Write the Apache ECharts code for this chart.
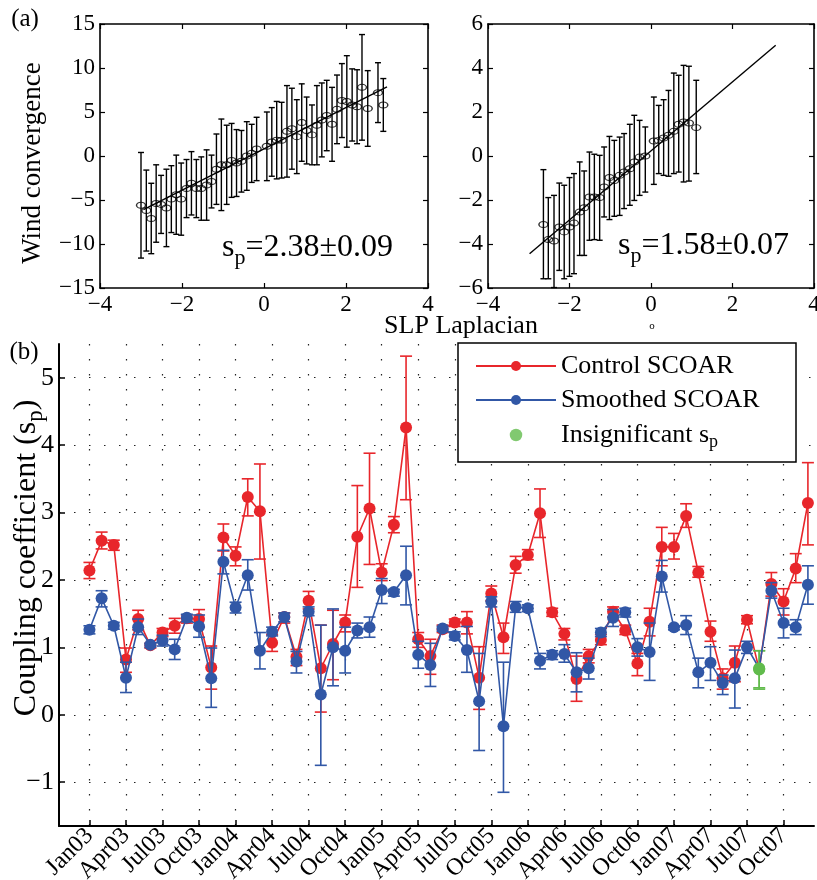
<!DOCTYPE html>
<html><head><meta charset="utf-8">
<script src="https://cdn.jsdelivr.net/npm/echarts@6/dist/echarts.min.js"></script>
<style>html,body{margin:0;padding:0;background:#fff}#c{width:817px;height:880px}</style>
</head><body><div id="c"></div>
<script>
// ---------------- data ----------------
const tickLabels = ['Jan03','Apr03','Jul03','Oct03','Jan04','Apr04','Jul04','Oct04','Jan05','Apr05','Jul05','Oct05','Jan06','Apr06','Jul06','Oct06','Jan07','Apr07','Jul07','Oct07'];
const tickMonths = [0,3,6,9,12,15,18,21,24,27,30,33,36,39,42,45,48,51,54,57];
const monthIndex = [0,1,2,3,4,5,6,7,8,9,10,11,12,13,14,15,16,17,18,19,20,21,22,23,24,25,26,27,28,29,30,31,32,33,34,35,36,37,38,39,40,41,42,43,44,45,46,47,48,49,50,51,52,53,54,55,56,57,58,59];
const controlSp   = [2.14,2.58,2.52,0.82,1.42,1.03,1.22,1.32,1.43,1.42, 0.70,2.63,2.36,3.23,3.02,1.07,1.45,0.86,1.69,0.69, 1.05,1.37,2.64,3.06,2.11,2.82,4.26,1.12,0.87,1.27, 1.37,1.37,0.55,1.80,1.15,2.22,2.37,2.99,1.52,1.20, 0.53,0.87,1.11,1.53,1.25,0.76,1.38,2.49,2.49,2.95, 2.11,1.23,0.54,0.77,1.41,0.67,1.94,1.68,2.17,3.14];
const controlLow  = [2.02,2.46,2.44,0.63,1.26,0.99,1.16,1.21,1.36,1.30, 0.38,2.43,2.21,2.95,2.31,0.94,1.36,0.73,1.57,0.04, 0.52,1.23,1.89,2.23,1.99,2.70,3.19,1.00,0.60,1.22, 1.31,1.20,0.08,1.69,0.91,2.10,2.30,2.63,1.46,1.11, 0.20,0.77,1.04,1.45,1.19,0.58,1.17,2.21,2.31,2.78, 2.04,1.09,0.38,0.49,1.35,0.38,1.76,1.48,1.96,2.52];
const controlHigh = [2.26,2.71,2.59,0.99,1.55,1.06,1.28,1.43,1.48,1.56, 1.02,2.83,2.49,3.50,3.72,1.19,1.51,0.97,1.83,1.33, 1.55,1.48,3.40,3.88,2.24,2.94,5.32,1.22,1.12,1.33, 1.42,1.53,1.01,1.91,1.36,2.35,2.45,3.35,1.58,1.28, 0.87,0.97,1.19,1.60,1.33,0.91,1.58,2.78,2.69,3.13, 2.20,1.39,0.68,1.02,1.47,0.95,2.11,1.87,2.39,3.74];
const smoothSp    = [1.26,1.73,1.32,0.55,1.30,1.04,1.10,0.97,1.44,1.31, 0.54,2.27,1.59,2.07,0.95,1.23,1.45,0.79,1.53,0.30, 1.00,0.95,1.25,1.30,1.85,1.82,2.07,0.89,0.74,1.28, 1.17,0.96,0.20,1.68,-0.17,1.60,1.58,0.80,0.89,0.90, 0.63,0.69,1.22,1.44,1.52,1.00,0.93,2.05,1.30,1.33, 0.63,0.77,0.47,0.54,1.00,0.69,1.84,1.36,1.30,1.93];
const smoothLow   = [1.20,1.60,1.27,0.33,1.19,1.00,1.02,0.82,1.38,1.15, 0.11,2.09,1.51,1.85,0.68,1.17,1.38,0.62,1.47,-0.75, 0.43,0.62,1.14,1.15,1.65,1.76,1.63,0.69,0.42,1.24, 1.11,0.63,-0.53,1.60,-1.15,1.52,1.53,0.68,0.82,0.78, 0.34,0.53,1.16,1.31,1.45,0.87,0.51,1.82,1.26,1.19, 0.40,0.51,0.30,0.10,0.91,0.40,1.73,1.14,1.19,1.64];
const smoothHigh  = [1.32,1.84,1.37,0.78,1.42,1.06,1.18,1.12,1.49,1.48, 0.99,2.44,1.67,2.30,1.22,1.30,1.51,0.94,1.60,1.33, 1.57,1.30,1.36,1.45,2.02,1.86,2.50,1.09,1.06,1.31, 1.23,1.31,0.91,1.75,0.78,1.68,1.63,0.91,0.95,1.04, 0.92,0.84,1.28,1.56,1.58,1.13,1.36,2.29,1.32,1.47, 0.84,1.01,0.59,0.96,1.09,0.95,1.96,1.58,1.41,2.21];
const insignificantMonths = [55];
const insignificantValues = [0.68];
const yTicksB = [-1,0,1,2,3,4,5];

// panel (a) left
const aLeftX   = [-3.00,-2.87,-2.75,-2.63,-2.51,-2.38,-2.26,-2.14,-2.02,-1.89,-1.77,-1.65,-1.53,-1.40,-1.28,-1.16,-1.04,-0.91,-0.79,-0.67,-0.55,-0.42,-0.30,-0.18,0.07,0.19,0.31,0.43,0.56,0.68,0.80,0.92,1.04,1.17,1.29,1.41,1.53,1.66,1.78,1.90,2.02,2.15,2.27,2.39,2.53,2.78,2.91];
const aLeftY   = [-5.6,-6.2,-7.1,-5.4,-5.5,-5.9,-4.9,-4.4,-4.9,-3.7,-3.1,-3.7,-3.7,-3.3,-2.9,-1.5,-1.0,-1.0,-0.5,-0.8,-0.6,0.0,0.3,0.8,1.1,1.6,1.8,1.8,2.8,3.1,2.2,3.8,2.9,2.4,3.5,4.1,4.6,3.6,5.3,6.3,6.2,5.8,5.6,7.8,5.4,7.2,5.8];
const aLeftErr = [6.0,4.6,4.0,4.4,3.3,4.4,3.8,4.5,4.1,3.3,3.6,3.3,3.6,4.0,3.0,4.0,5.2,4.5,4.2,3.8,3.5,3.9,3.3,3.6,3.9,3.9,4.4,4.3,5.2,4.6,4.2,4.4,3.8,3.4,4.5,4.2,4.0,4.2,3.9,4.2,5.2,4.1,4.2,6.0,4.3,3.4,3.0];
const aLeftFit = [[-2.94,-6.1],[3.0,7.85]];
// panel (a) right
const aRightX    = [-2.64,-2.52,-2.38,-2.25,-2.13,-2.00,-1.89,-1.75,-1.64,-1.51,-1.39,-1.26,-1.15,-1.02,-0.90,-0.77,-0.66,-0.52,-0.41,-0.28,-0.14,0.07,0.19,0.31,0.43,0.56,0.68,0.80,0.93,1.11];
const aRightY    = [-3.11,-3.80,-3.86,-3.23,-3.45,-3.23,-3.05,-2.55,-2.35,-1.86,-1.86,-1.89,-1.41,-0.98,-1.11,-0.88,-0.73,-0.58,-0.27,-0.05,0.00,0.68,0.71,0.82,0.94,1.12,1.44,1.55,1.50,1.29];
const aRightHigh = [-0.62,-1.89,-1.79,-1.23,-1.33,-0.98,-0.80,-0.27,-0.68,0.18,0.08,0.03,0.41,0.89,0.71,0.86,1.02,1.44,1.85,1.62,1.32,2.68,2.30,2.56,2.98,3.77,3.67,4.12,4.08,3.44];
const aRightLow  = [-5.58,-5.58,-5.98,-5.20,-5.58,-5.47,-5.35,-4.52,-4.52,-3.83,-3.80,-3.83,-2.77,-2.89,-2.74,-2.70,-2.39,-2.24,-2.02,-1.79,-1.64,-1.29,-0.80,-0.88,-0.92,-0.80,-0.73,-1.18,-1.14,-0.80];
const aRightFit  = [[-2.98,-4.44],[3.06,5.03]];

// ---------------- styling ----------------
const FONT = 'Liberation Serif';
const RED = '#e8262b', BLUE = '#3157a6', GREEN = '#62bb4c';
const minus = v => String(v).replace('-', '\u2212');

function errRender(capHalf, colorFn, width) {
  return function (params, api) {
    const x = api.value(0), lo = api.value(1), hi = api.value(2), flag = api.value(3);
    const a = api.coord([x, lo]), b = api.coord([x, hi]);
    const style = { stroke: colorFn(flag), lineWidth: width, fill: null };
    return { type: 'group', children: [
      { type: 'line', shape: { x1: a[0], y1: a[1], x2: b[0], y2: b[1] }, style },
      { type: 'line', shape: { x1: a[0] - capHalf, y1: a[1], x2: a[0] + capHalf, y2: a[1] }, style },
      { type: 'line', shape: { x1: b[0] - capHalf, y1: b[1], x2: b[0] + capHalf, y2: b[1] }, style }
    ]};
  };
}

function boxAxis(grid, pos, min, max, interval, labels) {
  return {
    type: 'value', gridIndex: grid, position: pos, min, max, interval,
    axisLine: { show: true, onZero: false, lineStyle: { color: '#000', width: 1.6 } },
    axisTick: { show: true, inside: true, length: 5, lineStyle: { color: '#000', width: 1.2 } },
    axisLabel: { show: labels, color: '#000', fontFamily: FONT, fontSize: 23, margin: 5, formatter: minus },
    splitLine: { show: false }
  };
}

const dotted = { show: true, lineStyle: { color: '#222', width: 1.2, type: [1.5, 13.5] } };

const isInsig = m => insignificantMonths.indexOf(m) >= 0;
const ctrlLine = monthIndex.map((m, i) => isInsig(m)
  ? { value: [m, controlSp[i]], itemStyle: { color: GREEN } } : [m, controlSp[i]]);
const smLine = monthIndex.map((m, i) => isInsig(m)
  ? { value: [m, smoothSp[i]], itemStyle: { color: GREEN } } : [m, smoothSp[i]]);
const ctrlErr = monthIndex.map((m, i) => [m, controlLow[i], controlHigh[i], isInsig(m) ? 1 : 0]);
const smErr = monthIndex.map((m, i) => [m, smoothLow[i], smoothHigh[i], isInsig(m) ? 1 : 0]);

const chart = echarts.init(document.getElementById('c'), null, { renderer: 'canvas' });
chart.setOption({
  animation: false,
  backgroundColor: '#fff',
  grid: [
    { left: 100, top: 24, width: 328, height: 264, outerBoundsMode: 'none' },
    { left: 488, top: 24, width: 326, height: 264, outerBoundsMode: 'none' },
    { left: 59, top: 344, width: 755, height: 482, outerBoundsMode: 'none' }
  ],
  xAxis: [
    boxAxis(0, 'bottom', -4, 4, 2, true),
    boxAxis(0, 'top', -4, 4, 2, false),
    boxAxis(1, 'bottom', -4, 4, 2, true),
    boxAxis(1, 'top', -4, 4, 2, false),
    {
      type: 'value', gridIndex: 2, position: 'bottom', min: -2.5, max: 59.5,
      axisLine: { show: true, onZero: false, lineStyle: { color: '#000', width: 2 } },
      axisTick: { show: true, inside: true, length: 6, customValues: tickMonths, lineStyle: { color: '#000', width: 1.5 } },
      axisLabel: { customValues: tickMonths, rotate: 45, color: '#000', fontFamily: FONT, fontSize: 24, margin: 6,
        formatter: v => tickLabels[tickMonths.indexOf(v)] },
      splitLine: dotted
    }
  ],
  yAxis: [
    boxAxis(0, 'left', -15, 15, 5, true),
    boxAxis(0, 'right', -15, 15, 5, false),
    boxAxis(1, 'left', -6, 6, 2, true),
    boxAxis(1, 'right', -6, 6, 2, false),
    {
      type: 'value', gridIndex: 2, position: 'left', min: -1.65, max: 5.5,
      axisLine: { show: true, onZero: false, lineStyle: { color: '#000', width: 2 } },
      axisTick: { show: true, inside: true, length: 6, customValues: yTicksB, lineStyle: { color: '#000', width: 1.5 } },
      axisLabel: { customValues: yTicksB, color: '#000', fontFamily: FONT, fontSize: 26, margin: 5, formatter: minus },
      splitLine: dotted
    }
  ],
  legend: {
    orient: 'vertical', left: 475, top: 351, padding: 0, itemGap: 4, itemWidth: 80, itemHeight: 12.5, itemTextGap: 9,
    selectedMode: false, z: 20,
    data: ['Control SCOAR', 'Smoothed SCOAR', { name: 'Insignificant s_p', icon: 'circle' }],
    formatter: n => n === 'Insignificant s_p' ? 'Insignificant s{sub|p}' : n,
    textStyle: { color: '#000', fontFamily: FONT, fontSize: 26, lineHeight: 30,
      rich: { sub: { color: '#000', fontFamily: FONT, fontSize: 18, lineHeight: 18, padding: [14, 0, 0, 0] } } }
  },
  graphic: [
    { type: 'rect', z: 10, shape: { x: 458, y: 343, width: 338, height: 119 }, style: { fill: '#fff', stroke: '#000', lineWidth: 1.5 } },
    { type: 'text', x: 25, y: 19, style: { text: '(a)', fontFamily: FONT, fontSize: 25, fill: '#000', align: 'center', verticalAlign: 'middle' } },
    { type: 'text', x: 24, y: 352, style: { text: '(b)', fontFamily: FONT, fontSize: 25, fill: '#000', align: 'center', verticalAlign: 'middle' } },
    { type: 'text', x: 33, y: 163, rotation: Math.PI / 2, style: { text: 'Wind convergence', fontFamily: FONT, fontSize: 27, fill: '#000', align: 'center', verticalAlign: 'middle' } },
    { type: 'text', x: 461, y: 326, style: { text: 'SLP Laplacian', fontFamily: FONT, fontSize: 26, fill: '#000', align: 'center', verticalAlign: 'middle' } },
    { type: 'text', x: 652, y: 326, style: { text: 'o', fontFamily: FONT, fontSize: 11, fill: '#000', align: 'center', verticalAlign: 'middle' } },
    { type: 'text', x: 27, y: 558, rotation: Math.PI / 2, style: {
      text: '{m|Coupling coefficient (s}{s|p}{m|)}', align: 'center', verticalAlign: 'middle',
      rich: { m: { fontFamily: FONT, fontSize: 32, lineHeight: 34, fill: '#000' },
              s: { fontFamily: FONT, fontSize: 23, lineHeight: 23, padding: [17, 0, 0, 0], fill: '#000' } } } },
    { type: 'text', x: 222, y: 248, style: {
      text: '{m|s}{s|p}{m|=2.38\u00b10.09}', align: 'left', verticalAlign: 'middle',
      rich: { m: { fontFamily: FONT, fontSize: 32, lineHeight: 34, fill: '#000' },
              s: { fontFamily: FONT, fontSize: 22, lineHeight: 22, padding: [20, 0, 0, 0], fill: '#000' } } } },
    { type: 'text', x: 618, y: 246, style: {
      text: '{m|s}{s|p}{m|=1.58\u00b10.07}', align: 'left', verticalAlign: 'middle',
      rich: { m: { fontFamily: FONT, fontSize: 32, lineHeight: 34, fill: '#000' },
              s: { fontFamily: FONT, fontSize: 22, lineHeight: 22, padding: [20, 0, 0, 0], fill: '#000' } } } }
  ],
  series: [
    // panel (a) left
    { type: 'custom', name: 'errA1', xAxisIndex: 0, yAxisIndex: 0, z: 3,
      renderItem: errRender(3, () => '#000', 1.4),
      encode: { x: 0, y: [1, 2] },
      data: aLeftX.map((x, i) => [x, aLeftY[i] - aLeftErr[i], aLeftY[i] + aLeftErr[i], 0]) },
    { type: 'scatter', name: 'ptsA1', xAxisIndex: 0, yAxisIndex: 0, z: 4, symbol: 'circle', symbolSize: [9, 6],
      itemStyle: { color: 'rgba(0,0,0,0)', borderColor: '#000', borderWidth: 1.2 },
      data: aLeftX.map((x, i) => [x, aLeftY[i]]) },
    { type: 'line', name: 'fitA1', xAxisIndex: 0, yAxisIndex: 0, z: 5, symbol: 'none',
      lineStyle: { color: '#000', width: 1.4 }, data: aLeftFit },
    // panel (a) right
    { type: 'custom', name: 'errA2', xAxisIndex: 2, yAxisIndex: 2, z: 3,
      renderItem: errRender(3, () => '#000', 1.4),
      encode: { x: 0, y: [1, 2] },
      data: aRightX.map((x, i) => [x, aRightLow[i], aRightHigh[i], 0]) },
    { type: 'scatter', name: 'ptsA2', xAxisIndex: 2, yAxisIndex: 2, z: 4, symbol: 'circle', symbolSize: [9, 6],
      itemStyle: { color: 'rgba(0,0,0,0)', borderColor: '#000', borderWidth: 1.2 },
      data: aRightX.map((x, i) => [x, aRightY[i]]) },
    { type: 'line', name: 'fitA2', xAxisIndex: 2, yAxisIndex: 2, z: 5, symbol: 'none',
      lineStyle: { color: '#000', width: 1.4 }, data: aRightFit },
    // panel (b)
    { type: 'custom', name: 'errCtrl', xAxisIndex: 4, yAxisIndex: 4, z: 3,
      renderItem: errRender(6, f => f ? GREEN : RED, 1.6),
      encode: { x: 0, y: [1, 2] }, data: ctrlErr },
    { type: 'line', name: 'Control SCOAR', xAxisIndex: 4, yAxisIndex: 4, z: 4,
      symbol: 'circle', symbolSize: 12, color: RED, itemStyle: { color: RED },
      lineStyle: { color: RED, width: 1.6 }, data: ctrlLine },
    { type: 'custom', name: 'errSm', xAxisIndex: 4, yAxisIndex: 4, z: 5,
      renderItem: errRender(6, f => f ? GREEN : BLUE, 1.6),
      encode: { x: 0, y: [1, 2] }, data: smErr },
    { type: 'line', name: 'Smoothed SCOAR', xAxisIndex: 4, yAxisIndex: 4, z: 6,
      symbol: 'circle', symbolSize: 12, color: BLUE, itemStyle: { color: BLUE },
      lineStyle: { color: BLUE, width: 1.6 }, data: smLine },
    { type: 'scatter', name: 'Insignificant s_p', xAxisIndex: 4, yAxisIndex: 4, z: 7,
      symbol: 'circle', symbolSize: 12, color: GREEN, itemStyle: { color: GREEN },
      data: insignificantMonths.map((m, i) => [m, insignificantValues[i]]) }
  ]
});
</script>
</body></html>
